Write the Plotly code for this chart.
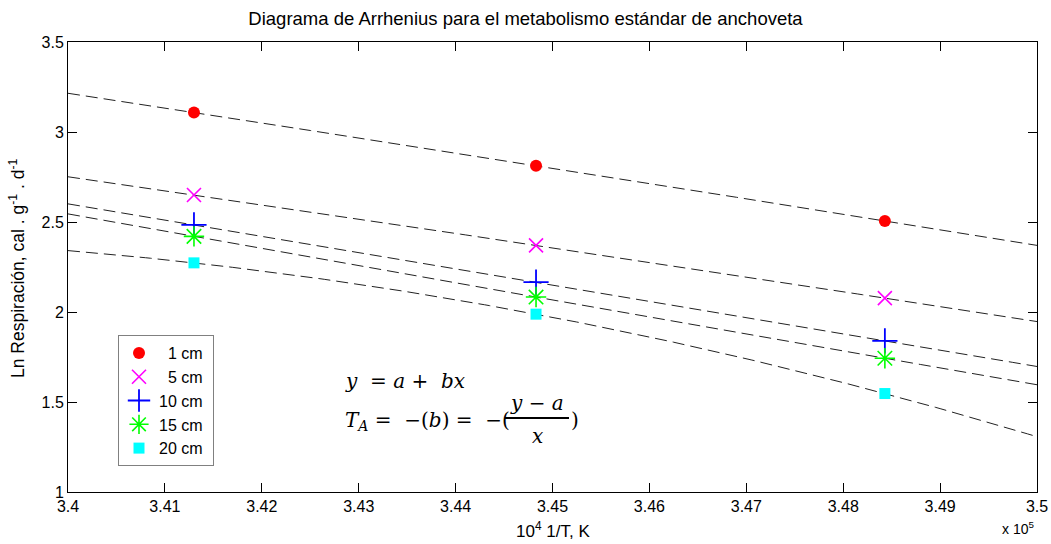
import numpy as np
import plotly.graph_objects as go

# Data
inv_T = [3.4130, 3.4483, 3.4843]           # 10^4 1/T (K)
sizes = ["1 cm", "5 cm", "10 cm", "15 cm", "20 cm"]
legend_labels = ["&nbsp;&nbsp;1 cm&nbsp;", "&nbsp;&nbsp;5 cm&nbsp;", "10 cm&nbsp;", "15 cm&nbsp;", "20 cm&nbsp;"]
ln_resp_1 = [3.108, 2.813, 2.506]
ln_resp_5 = [2.650, 2.370, 2.077]
ln_resp_10 = [2.484, 2.166, 1.840]
ln_resp_15 = [2.420, 2.083, 1.743]
ln_resp_20 = [2.273, 1.988, 1.547]
x_range = [3.40, 3.50]
x_ticks = [3.40, 3.41, 3.42, 3.43, 3.44, 3.45, 3.46, 3.47, 3.48, 3.49, 3.50]
x_tick_labels = ["3.4", "3.41", "3.42", "3.43", "3.44", "3.45", "3.46", "3.47", "3.48", "3.49", "3.5"]
y_ticks = [1, 1.5, 2, 2.5, 3, 3.5]
y_tick_labels = ["1", "1.5", "2", "2.5", "3", "3.5"]

series = [ln_resp_1, ln_resp_5, ln_resp_10, ln_resp_15, ln_resp_20]
styles = [
    dict(symbol="circle", size=12, color="#ff0000", line=dict(width=0)),
    dict(symbol="x-thin-open", size=14, color="#ff00ff", line=dict(width=1.6, color="#ff00ff")),
    dict(symbol="cross-thin-open", size=18, color="#0000ff", line=dict(width=1.8, color="#0000ff")),
    dict(symbol="asterisk-open", size=17, color="#00ff00", line=dict(width=1.6, color="#00ff00")),
    dict(symbol="square", size=11, color="#00ffff", line=dict(width=0)),
]

fig = go.Figure()
# Fitted curves (2nd-order polynomial through each series)
xl = np.linspace(x_range[0], x_range[1], 201)
for ys in series:
    coef = np.polyfit(inv_T, ys, 2)
    fig.add_trace(go.Scatter(x=xl, y=np.polyval(coef, xl), mode="lines",
                             line=dict(color="#222222", width=1, dash="12px,6px"),
                             showlegend=False, hoverinfo="skip"))
# Points
for lab, ys, st in zip(legend_labels, series, styles):
    fig.add_trace(go.Scatter(x=inv_T, y=ys, mode="markers", name=lab, marker=st))

font = "Liberation Sans, Arial, sans-serif"
serif = "DejaVu Serif, Liberation Serif, serif"

L, R, T, B = 68, 14, 42, 52
W, H = 1051, 544
pw, ph = W - L - R, H - T - B

fig.update_layout(
    template="none",
    width=W, height=H,
    margin=dict(l=L, r=R, t=T, b=B, autoexpand=False),
    paper_bgcolor="white", plot_bgcolor="white",
    font=dict(family=font, size=16, color="black"),
    title=dict(text="Diagrama de Arrhenius para el metabolismo estándar de anchoveta",
               x=0.5, xanchor="center", xref="container", yref="container",
               y=1 - 19 / H, yanchor="middle",
               font=dict(size=18.5, family=font)),
    xaxis=dict(range=x_range, tickvals=x_ticks, ticktext=x_tick_labels, automargin=False,
               ticks="inside", ticklen=9, tickcolor="black", showgrid=False, zeroline=False,
               showline=True, linecolor="black", linewidth=1, mirror="allticks",
               tickfont=dict(size=16)),
    yaxis=dict(range=[1, 3.5], tickvals=y_ticks, ticktext=y_tick_labels, automargin=False,
               ticks="inside", ticklen=9, tickcolor="black", showgrid=False, zeroline=False,
               showline=True, linecolor="black", linewidth=1, mirror="allticks",
               tickfont=dict(size=16)),
    legend=dict(x=(118 - L) / pw, y=(H - B - 335) / ph, xanchor="left", yanchor="top",
                bgcolor="white", bordercolor="#808080", borderwidth=1,
                font=dict(size=16), itemwidth=30, tracegroupgap=0),
    showlegend=True,
)


def px(xp, yp):
    return (xp - L) / pw, (H - B - yp) / ph


# Axis titles and exponent label
fig.add_annotation(x=(553 - L) / pw, y=(H - B - 530) / ph, xref="paper", yref="paper",
                   text="10<sup>4</sup> 1/T, K", showarrow=False, xanchor="center", yanchor="middle",
                   font=dict(size=17))
fig.add_annotation(x=(17 - L) / pw, y=(H - B - 269) / ph, xref="paper", yref="paper",
                   text="Ln Respiración, cal . g<sup>-1</sup> . d<sup>-1</sup>", textangle=-90,
                   showarrow=False, xanchor="center", yanchor="middle", font=dict(size=17.5))
fig.add_annotation(x=(1036 - L) / pw, y=(H - B - 528) / ph, xref="paper", yref="paper",
                   text="x 10<sup>5</sup>", showarrow=False, xanchor="right", yanchor="middle",
                   font=dict(size=14))

eq = [
    (343, 381, "<i>y</i>  = <i>a</i> +  <i>bx</i>", "left"),
    (343, 421, "<i>T<sub>A</sub></i> =  −(<i>b</i>) =  −(", "left"),
    (537, 403, "<i>y</i> − <i>a</i>", "center"),
    (537, 436, "<i>x</i>", "center"),
    (569, 420, ")", "left"),
]
for xp, yp, txt, anc in eq:
    x0, y0 = px(xp, yp)
    fig.add_annotation(x=x0, y=y0, xref="paper", yref="paper", xanchor=anc, yanchor="middle",
                       text=txt, showarrow=False, font=dict(family=serif, size=20, color="black"))
bx0, by = px(505, 418)
bx1, _ = px(569, 418)
fig.add_shape(type="line", xref="paper", yref="paper", x0=bx0, x1=bx1, y0=by, y1=by,
              line=dict(color="black", width=2))

fig.write_html("out.html")
